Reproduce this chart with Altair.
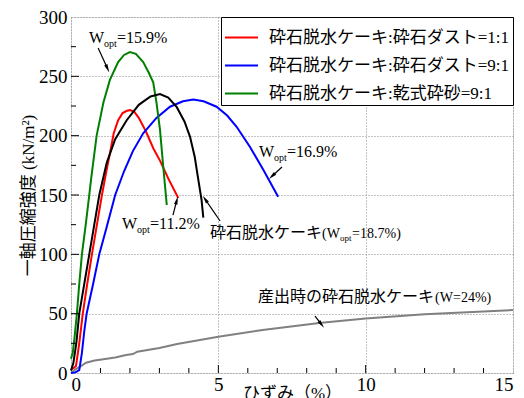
import math
import altair as alt
import pandas as pd

# ---------------- data ----------------
legend_labels = [
    "砕石脱水ケーキ:砕石ダスト=1:1",
    "砕石脱水ケーキ:砕石ダスト=9:1",
    "砕石脱水ケーキ:乾式砕砂=9:1",
]
legend_colors = ["#ff0000", "#0000ff", "#008000"]

red_x = [0, 0.08, 0.17, 0.28, 0.40, 0.55, 0.71, 0.88, 1.05, 1.2, 1.32, 1.45, 1.6, 1.75, 1.9, 2.0, 2.15, 2.3, 2.45, 2.57, 2.8, 3.02, 3.3, 3.64]
red_y = [3, 4, 6, 25, 50, 75, 100, 125, 150, 170, 185, 202, 213, 219, 221, 221.5, 220, 215, 208, 202, 189, 179, 164, 147.5]

blue_x = [0, 0.15, 0.28, 0.37, 0.45, 0.53, 0.75, 0.96, 1.2, 1.5, 1.8, 2.1, 2.45, 2.9, 3.36, 3.8, 4.15, 4.5, 4.94, 5.3, 5.62, 6.07, 6.53, 7.03]
blue_y = [0, 0.5, 2.5, 17, 35, 50, 75, 100, 122, 150, 170, 187, 202, 215, 224.4, 229, 230.5, 229, 224.4, 217, 207.5, 190.7, 171, 148.6]

green_x = [0, 0.06, 0.12, 0.20, 0.28, 0.37, 0.5, 0.62, 0.68, 0.87, 1.1, 1.32, 1.6, 1.8, 2.0, 2.2, 2.45, 2.64, 2.79, 2.9, 3.02, 3.13, 3.25]
green_y = [12, 17, 30, 50, 75, 100, 125, 150, 163, 200, 228, 247, 262, 268, 270.5, 269, 262, 253, 245, 228, 205, 174, 141.6]

black_x = [0, 0.08, 0.18, 0.28, 0.45, 0.62, 0.79, 0.96, 1.21, 1.5, 1.89, 2.3, 2.7, 3.02, 3.3, 3.59, 3.85, 4.04, 4.2, 4.32, 4.43, 4.49]
black_y = [2, 8.4, 25, 50, 75, 100, 125, 150, 177, 197, 213, 226, 233, 235, 232, 224, 212, 199, 182, 163, 146, 131]

gray_x = [0, 0.15, 0.31, 0.51, 0.8, 1.1, 1.5, 1.87, 2.1, 2.25, 3.0, 3.6, 5.0, 6.5, 8.5, 10, 12, 15]
gray_y = [0, 3, 5.3, 8.7, 10.5, 11.5, 13, 15.2, 16, 18, 21, 24.4, 30.6, 36.2, 42.4, 46, 49.5, 53]

x_ticks = [0, 5, 10, 15]
y_ticks = [0, 50, 100, 150, 200, 250, 300]
x_minor = [1, 2, 3, 4, 6, 7, 8, 9, 11, 12, 13, 14]
y_minor = [25, 75, 125, 175, 225, 275]
x_major_in = [5, 10]
y_major_in = [50, 100, 150, 200, 250]

# annotations: (x, y, [(dx, dy, text, size), ...])
annotations = [
    (0.61, 278.1, [(0, 0, "W", 16), (15, 4, "opt", 10), (28, 0, "=15.9%", 16)]),
    (6.38, 182.0, [(0, 0, "W", 16), (15, 4, "opt", 10), (28, 0, "=16.9%", 16)]),
    (1.73, 121.3, [(0, 0, "W", 16), (15, 4, "opt", 10), (28, 0, "=11.2%", 16)]),
    (4.72, 113.8, [(0, 0, "砕石脱水ケーキ", 16), (112, 0, "(W", 14), (130, 3, "opt", 9), (142, 0, "=18.7%)", 14)]),
    (6.35, 59.8, [(0, 0, "産出時の砕石脱水ケーキ", 16), (177, 0, "(W=24%)", 14)]),
]
# arrows: tail (x1, y1) -> head (x2, y2)
arrows = [
    (0.92, 273.9, 1.24, 256.5),
    (7.16, 173.6, 6.82, 165.8),
    (3.46, 133.1, 3.59, 145.5),
    (5.06, 128.1, 4.55, 146.5),
    (8.28, 48.0, 8.50, 41.0),
]

W, H = 442, 356
XMAX, YMAX = 15, 300
SERIF = "'Liberation Serif', 'Noto Sans CJK JP', serif"
NUM = "'Liberation Serif', serif"

xs = alt.Scale(domain=[0, XMAX], nice=False)
ys = alt.Scale(domain=[0, YMAX], nice=False)

rows = []
for lab, xx, yy in zip(legend_labels, [red_x, blue_x, green_x], [red_y, blue_y, green_y]):
    for i, (a, b) in enumerate(zip(xx, yy)):
        rows.append({"s": lab, "x": a, "y": b, "o": i})
df = pd.DataFrame(rows)

xaxis = alt.Axis(values=x_ticks, ticks=False, domain=False, grid=True, gridDash=[1, 2],
                 gridColor="#888", labelFont=NUM, labelFontSize=19,
                 labelColor="black", labelPadding=2, title="ひずみ（%）", titleFont=SERIF,
                 titleFontSize=17, titleFontWeight="normal", titleColor="black",
                 titleY=12, titleBaseline="top")
yaxis = alt.Axis(values=y_ticks, ticks=False, domain=False, grid=True, gridDash=[1, 2],
                 gridColor="#888", labelFont=NUM, labelFontSize=19,
                 labelColor="black", labelPadding=4, title="一軸圧縮強度 (kN/m²)",
                 titleFont=SERIF, titleFontSize=17, titleFontWeight="normal",
                 titleColor="black", titlePadding=1)

colored = alt.Chart(df).mark_line(strokeWidth=2).encode(
    x=alt.X("x:Q", scale=xs, axis=xaxis),
    y=alt.Y("y:Q", scale=ys, axis=yaxis),
    order="o:Q",
    color=alt.Color("s:N", sort=legend_labels,
                    scale=alt.Scale(domain=legend_labels, range=legend_colors),
                    legend=alt.Legend(title=None, orient="top-right", offset=0,
                                      symbolType="stroke", symbolSize=1089,
                                      symbolStrokeWidth=2, labelFont=SERIF,
                                      labelFontSize=17, labelColor="black",
                                      labelOffset=10, rowPadding=2, padding=3,
                                      strokeColor="black", fillColor="white",
                                      labelLimit=400)),
)

black_df = pd.DataFrame({"x": black_x, "y": black_y, "o": range(len(black_x))})
black = alt.Chart(black_df).mark_line(strokeWidth=2, color="black").encode(
    x=alt.X("x:Q", scale=xs), y=alt.Y("y:Q", scale=ys), order="o:Q")

gray_df = pd.DataFrame({"x": gray_x, "y": gray_y, "o": range(len(gray_x))})
gray = alt.Chart(gray_df).mark_line(strokeWidth=2, color="#808080").encode(
    x=alt.X("x:Q", scale=xs), y=alt.Y("y:Q", scale=ys), order="o:Q")

layers = [gray, colored, black]

# inward ticks
def xticks(vals, L):
    return alt.Chart(pd.DataFrame({"v": vals})).mark_rule(color="black", strokeWidth=1).encode(
        x=alt.X("v:Q", scale=xs), y=alt.value(H), y2=alt.value(H - L))

def yticks(vals, L):
    return alt.Chart(pd.DataFrame({"v": vals})).mark_rule(color="black", strokeWidth=1).encode(
        y=alt.Y("v:Q", scale=ys), x=alt.value(0), x2=alt.value(L))

layers += [xticks(x_minor, 5), xticks(x_major_in, 8), yticks(y_minor, 5), yticks(y_major_in, 8)]

# annotations
for ax, ay, pieces in annotations:
    adf = pd.DataFrame({"x": [ax], "y": [ay]})
    for dx, dy, txt, size in pieces:
        layers.append(alt.Chart(adf).mark_text(
            text=txt, dx=dx, dy=dy, fontSize=size, font=SERIF, align="left",
            baseline="alphabetic", color="black").encode(
            x=alt.X("x:Q", scale=xs), y=alt.Y("y:Q", scale=ys)))

arrow_shape = "M0,-1L0.42,1L-0.42,1Z"
for x1, y1, x2, y2 in arrows:
    seg = pd.DataFrame({"x": [x1], "y": [y1], "x2": [x2], "y2": [y2]})
    layers.append(alt.Chart(seg).mark_rule(color="black", strokeWidth=1.2).encode(
        x=alt.X("x:Q", scale=xs), y=alt.Y("y:Q", scale=ys), x2="x2:Q", y2="y2:Q"))
    dxp = (x2 - x1) * W / XMAX
    dyp = -(y2 - y1) * H / YMAX
    ang = math.degrees(math.atan2(dxp, -dyp)) % 360
    layers.append(alt.Chart(seg).mark_point(shape=arrow_shape, size=70, filled=True,
                                            color="black", opacity=1, angle=ang).encode(
        x=alt.X("x2:Q", scale=xs), y=alt.Y("y2:Q", scale=ys)))

chart = alt.layer(*layers).properties(
    width=W, height=H,
    autosize=alt.AutoSizeParams(type="none"),
    padding={"left": 63, "top": 9, "right": 3, "bottom": 25},
).configure_view(stroke="black", strokeWidth=1.5).configure(background="white")

chart.save("out.html", embed_options={"renderer": "svg", "actions": False})
